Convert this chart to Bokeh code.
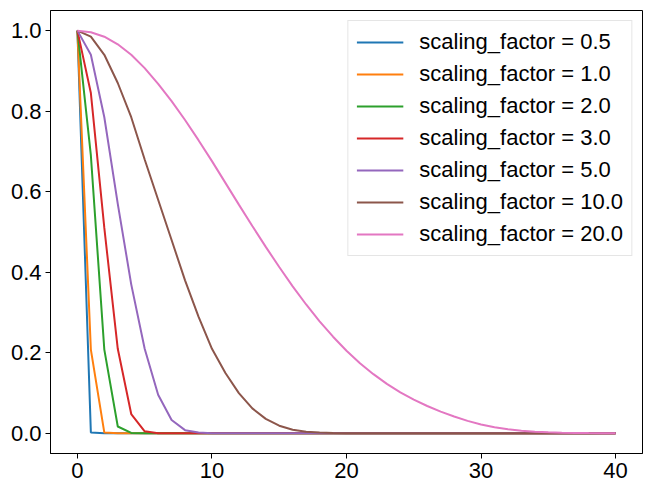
from bokeh.plotting import figure
from bokeh.models import Range1d, FixedTicker, Legend, LegendItem, NumeralTickFormatter
from bokeh.embed import file_html
from bokeh.resources import INLINE

# sample positions
x = list(range(41))

# curve values for each scaling factor, read at integer positions
y_0_5 = [1.0, 0.002] + [0.0] * 39
y_1_0 = [1.0, 0.208, 0.002] + [0.0] * 38
y_2_0 = [1.0, 0.69, 0.208, 0.017, 0.001] + [0.0] * 36
y_3_0 = [1.0, 0.845, 0.51, 0.21, 0.048, 0.005, 0.0005] + [0.0] * 34
y_5_0 = [1.0, 0.94, 0.785, 0.57, 0.37, 0.21, 0.096, 0.033, 0.008, 0.002, 0.0003] + [0.0] * 30
y_10_0 = [1.0, 0.985, 0.94, 0.87, 0.785, 0.68, 0.58, 0.48, 0.38, 0.29,
          0.21, 0.15, 0.10, 0.062, 0.036, 0.019, 0.009, 0.004, 0.002, 0.0007,
          0.0002] + [0.0] * 20
y_20_0 = [1.0, 0.996, 0.985, 0.966, 0.94, 0.907, 0.868, 0.825, 0.778, 0.728,
          0.676, 0.622, 0.568, 0.515, 0.463, 0.413, 0.365, 0.320, 0.278, 0.240,
          0.205, 0.174, 0.147, 0.123, 0.102, 0.084, 0.068, 0.054, 0.042, 0.031,
          0.022, 0.015, 0.010, 0.0065, 0.0042, 0.0026, 0.0016, 0.001, 0.0006, 0.0003,
          0.0002]

labels = ["scaling_factor = 0.5", "scaling_factor = 1.0", "scaling_factor = 2.0",
          "scaling_factor = 3.0", "scaling_factor = 5.0", "scaling_factor = 10.0",
          "scaling_factor = 20.0"]
series = [y_0_5, y_1_0, y_2_0, y_3_0, y_5_0, y_10_0, y_20_0]
colors = ["#1f77b4", "#ff7f0e", "#2ca02c", "#d62728", "#9467bd", "#8c564b", "#e377c2"]

x_ticks = [0, 10, 20, 30, 40]
y_ticks = [0.0, 0.2, 0.4, 0.6, 0.8, 1.0]

FONT = "Liberation Sans"
FONT_SIZE = "22px"

p = figure(width=651, height=491, output_backend="svg", toolbar_location=None,
           x_range=Range1d(-2, 42), y_range=Range1d(-0.05, 1.05),
           min_border_left=50, min_border_right=9, min_border_top=10, min_border_bottom=38)

p.background_fill_color = "white"
p.border_fill_color = "white"
p.outline_line_color = "black"
p.outline_line_width = 1
p.xgrid.visible = False
p.ygrid.visible = False

for ax in (p.xaxis[0], p.yaxis[0]):
    ax.axis_line_color = "black"
    ax.major_tick_line_color = "black"
    ax.major_tick_in = 0
    ax.major_tick_out = 5
    ax.minor_tick_line_color = None
    ax.major_label_text_font = FONT
    ax.major_label_text_font_size = FONT_SIZE
    ax.major_label_text_color = "black"
    ax.major_label_standoff = 4

p.xaxis[0].ticker = FixedTicker(ticks=x_ticks)
p.yaxis[0].ticker = FixedTicker(ticks=y_ticks)
p.yaxis[0].formatter = NumeralTickFormatter(format="0.0")

items = []
for ys, lab, col in zip(series, labels, colors):
    r = p.line(x, ys, line_color=col, line_width=2)
    items.append(LegendItem(label=lab, renderers=[r]))

legend = Legend(items=items, location="top_right")
legend.label_text_font = FONT
legend.label_text_font_size = FONT_SIZE
legend.label_text_color = "black"
legend.glyph_width = 47
legend.glyph_height = 26
legend.label_height = 26
legend.spacing = 6
legend.padding = 8
legend.margin = 10
legend.label_standoff = 16
legend.border_line_color = "#cccccc"
legend.border_line_width = 1
legend.background_fill_color = "white"
legend.background_fill_alpha = 0.8
p.add_layout(legend, "center")

open("out.html", "w").write(file_html(p, INLINE))
